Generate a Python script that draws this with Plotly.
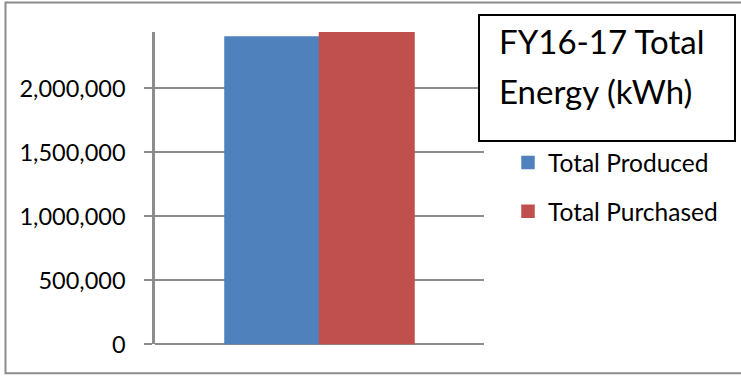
import plotly.graph_objects as go

# ---- data ----
categories = ["FY16-17"]
series_names = ["Total Produced", "Total Purchased"]
total_produced = [2400000]
total_purchased = [2440000]
y_ticks = [0, 500000, 1000000, 1500000, 2000000]
y_tick_labels = ["0", "500,000", "1,000,000", "1,500,000", "2,000,000"]
title_lines = ["FY16-17 Total", "Energy (kWh)"]

W, H = 741, 376
FONT = "Lato"
GRID = "#8c8c8c"

def px_x(p):
    return p / W

def px_y(p):
    return 1 - p / H

fig = go.Figure()
fig.add_trace(go.Bar(x=categories, y=total_produced, name=series_names[0],
                     marker=dict(color="#4F81BD", line=dict(color="#4F81BD", width=1.5)),
                     legendgroup="a"))
fig.add_trace(go.Bar(x=categories, y=total_purchased, name=series_names[1],
                     marker=dict(color="#C0504D", line=dict(color="#C0504D", width=1.5)),
                     legendgroup="b"))

fig.update_layout(
    width=W, height=H,
    margin=dict(l=0, r=0, t=0, b=0),
    paper_bgcolor="white", plot_bgcolor="white",
    template="none",
    barmode="group", bargap=0.4255, bargroupgap=0,
    font=dict(family=FONT, color="black"),
    xaxis=dict(domain=[px_x(155), px_x(484)], range=[-0.5, 0.5], type="category",
               showticklabels=False, showgrid=False, showline=False, zeroline=False,
               ticks="", automargin=False),
    yaxis=dict(domain=[px_y(344.3), px_y(32)], range=[0, 2440000],
               tickvals=y_ticks, ticktext=y_tick_labels,
               showline=True, linecolor=GRID, linewidth=2.5,
               showgrid=True, gridcolor=GRID, gridwidth=2,
               zeroline=True, zerolinecolor=GRID, zerolinewidth=2,
               ticks="outside", ticklen=8, tickwidth=2, tickcolor=GRID,
               ticklabelstandoff=14,
               tickfont=dict(family=FONT, size=23.5, color="black"),
               automargin=False),
    legend=dict(x=px_x(508), y=px_y(140), xanchor="left", yanchor="top",
                xref="paper", yref="paper",
                font=dict(family=FONT, size=24.5, color="black"),
                bgcolor="rgba(0,0,0,0)", borderwidth=0,
                tracegroupgap=14, traceorder="grouped"),
    showlegend=True,
    shapes=[
        dict(type="rect", xref="paper", yref="paper",
             x0=px_x(5.5), x1=px_x(745), y0=px_y(373.3), y1=px_y(2.5),
             line=dict(color=GRID, width=2), fillcolor="rgba(0,0,0,0)", layer="above"),
        dict(type="rect", xref="paper", yref="paper",
             x0=px_x(479), x1=px_x(735), y0=px_y(141), y1=px_y(15),
             line=dict(color="black", width=2), fillcolor="white", layer="above"),
    ],
    annotations=[
        dict(text=title_lines[0], xref="paper", yref="paper",
             x=px_x(497), y=px_y(41), xanchor="left", yanchor="middle",
             align="left", showarrow=False,
             font=dict(family=FONT, size=33, color="black")),
        dict(text=title_lines[1], xref="paper", yref="paper",
             x=px_x(497), y=px_y(91), xanchor="left", yanchor="middle",
             align="left", showarrow=False,
             font=dict(family=FONT, size=33, color="black")),
    ],
)

fig.write_html("out.html")
